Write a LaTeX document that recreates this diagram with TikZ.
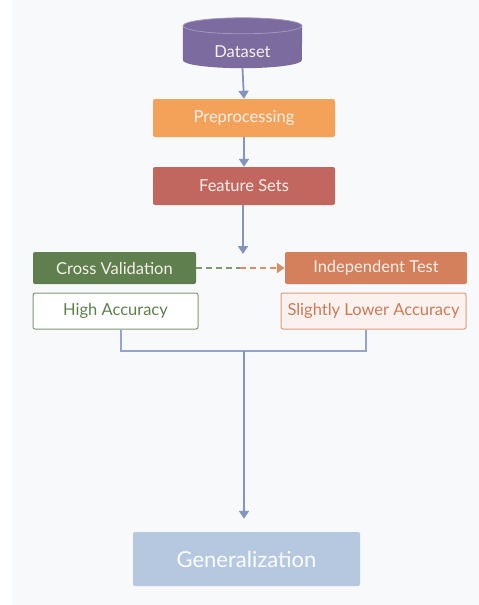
\documentclass[tikz,border=0pt]{standalone}
\usepackage{fontspec}
\setmainfont{Lato}
\usetikzlibrary{positioning, shapes.geometric, arrows.meta, calc}

\definecolor{bgcol}{HTML}{F8F9FA}
\definecolor{datacol}{HTML}{7B6B9F}
\definecolor{prepcol}{HTML}{F4A25A}
\definecolor{featcol}{HTML}{C2675F}
\definecolor{cvcol}{HTML}{5F7F4F}
\definecolor{itcol}{HTML}{D4805C}
\definecolor{linecol}{HTML}{8394BD}
\definecolor{gencol}{HTML}{B5C8DF}
\definecolor{boxtext}{HTML}{F7F0EA}

\tikzset{
  box/.style={rectangle, rounded corners=2pt, fill=#1, text=boxtext, font=\fontsize{16.5}{20}\selectfont, inner sep=0pt},
  flow/.style={draw=linecol, line width=1.8pt, -{Triangle[width=10pt,length=8pt]}},
  joinline/.style={draw=linecol!85, line width=1.6pt},
  dashlink/.style={line width=1.6pt, dash pattern=on 6pt off 4pt},
}

\begin{document}
\begin{tikzpicture}[x=1pt, y=1pt]
            \useasboundingbox (0,0) rectangle (479,-605);
            \fill[bgcol] (12,0) rectangle (479,-605);

            % database drum
            \node [minimum width=119pt, minimum height=50pt, inner sep=0pt] (dataset) at (242.5,-43) {};
            \fill [datacol] ($(dataset.north west)+(0,-8)$) -- ($(dataset.south west)+(0,8)$)
                  arc [start angle=180, end angle=360, x radius=59.5, y radius=8]
                  -- ($(dataset.north east)+(0,-8)$)
                  arc [start angle=0, end angle=180, x radius=59.5, y radius=8] -- cycle;
            \draw [datacol!70!white, line width=0.8pt] ($(dataset.north)+(0,-8)$) ellipse [x radius=59.5, y radius=8];
            \node [text=boxtext, font=\fontsize{16.5}{20}\selectfont] (datalabel) at (242.5,-52) {Dataset};

            \node [box=prepcol, minimum width=182pt, minimum height=38pt] (prep) at (244,-118) {Preprocessing};
            \node [box=featcol, minimum width=182pt, minimum height=38pt] (feat) at (244,-186) {Feature Sets};

            \node [box=cvcol, minimum width=163pt, minimum height=32pt] (cv) at (114.5,-268) {Cross Validation};
            \node [box=itcol, minimum width=182pt, minimum height=32pt] (indep) at (376,-268) {Independent Test};
            \node [box=white, draw=cvcol!80, line width=1pt, text=cvcol, minimum width=165pt, minimum height=36pt] (high) at (115.5,-311) {High Accuracy};
            \node [box=itcol!10, draw=itcol!80, line width=1pt, text=itcol!95!black, minimum width=185pt, minimum height=36pt] (lower) at (373.5,-311) {Slightly Lower Accuracy};

            \node [box=gencol, minimum width=227pt, minimum height=54pt, text=white!95!gencol, font=\fontsize{22}{26}\selectfont] (gen) at (246.5,-559) {Generalization};

            \coordinate (split) at (243,-254);
            \coordinate (mid) at (240,-268);
            \coordinate (merge) at (244,-351);

            \draw [flow] (dataset.south) -- (prep.north);
            \draw [flow] (prep.south) -- (feat.north);
            \draw [flow] (feat.south -| split) -- (split);

            % dashed link
            \draw [dashlink, cvcol!80] (cv.east) -- (mid);
            \draw [dashlink, itcol!90, -{Triangle[width=10pt,length=8pt]}] (mid) -- (indep.west);

            % results join
            \draw [joinline] ([xshift=5.5pt]high.south) |- (merge) -| ([xshift=-7.5pt]lower.south);
            \draw [flow, shorten >=13pt] (merge) -- (gen.north -| merge);
\end{tikzpicture}
\end{document}
